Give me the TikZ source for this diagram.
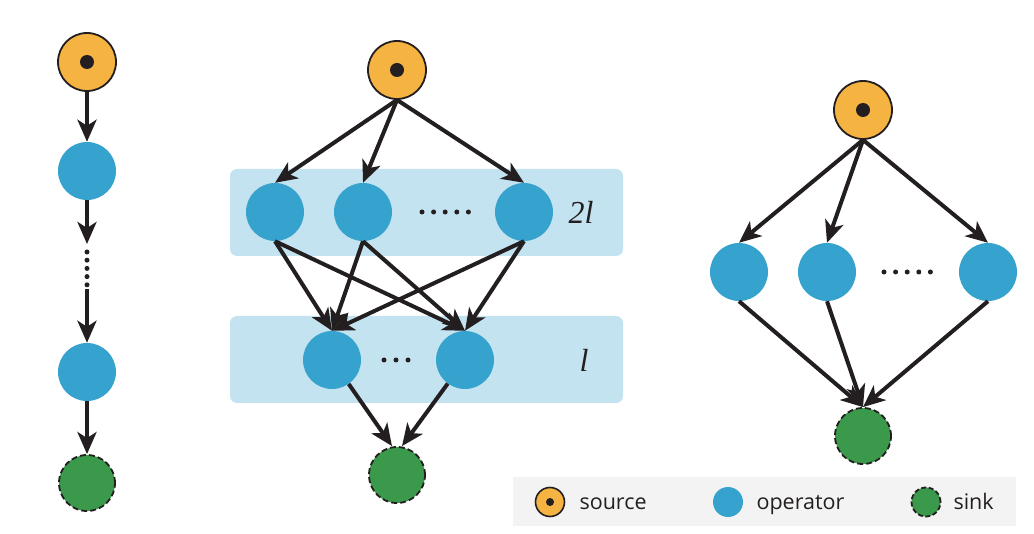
\documentclass[tikz,border=0pt]{standalone}
\usepackage{fontspec}
\setsansfont{Open Sans}
\newfontfamily\lblfont{Liberation Serif}
\usetikzlibrary{arrows.meta}
\definecolor{srcor}{HTML}{F5B342}
\definecolor{opblue}{HTML}{36A3CF}
\definecolor{sinkgr}{HTML}{3A994B}
\definecolor{layerbg}{HTML}{C4E3F0}
\definecolor{legbg}{HTML}{F3F3F3}
\definecolor{ink}{HTML}{231F20}
\tikzset{
  srcnode/.style={circle,minimum size=58pt,inner sep=0pt,fill=srcor,draw=ink,line width=1.8pt},
  opnode/.style={circle,minimum size=58pt,inner sep=0pt,fill=opblue},
  sinknode/.style={circle,minimum size=56pt,inner sep=0pt,fill=sinkgr,draw=ink,line width=1.8pt,dash pattern=on 6pt off 3pt},
  dotmark/.style={circle,fill=ink,minimum size=14pt,inner sep=0pt},
  conn/.style={draw=ink,line width=4pt,-{Stealth[length=22pt,width=19pt,inset=6pt]}},
  layer/.style={fill=layerbg,rounded corners=7pt},
  lbl/.style={font=\lblfont\fontsize{32pt}{32pt}\selectfont\itshape,text=ink},
  legtxt/.style={font=\sffamily\fontsize{21.5pt}{24pt}\selectfont,text=ink,anchor=base west}
}
\begin{document}
\begin{tikzpicture}[x=1pt,y=-1pt]
\useasboundingbox (0,0) rectangle (1034,534);
% ---------- left chain ----------
\node[srcnode] (Ls) at (87,62) {};
\node[dotmark] at (Ls) {};
\node[opnode] (Lo1) at (87,171) {};
\node[opnode] (Lo2) at (87,372) {};
\node[sinknode] (Lk) at (87,483) {};
\coordinate (Ld1) at (87,244);
\coordinate (Ld2) at (87,289);
\draw[conn] (Lo1) -- (Ld1);
\draw[conn] (Ls) -- (Lo1);
\draw[ink,line width=5pt,line cap=round,dash pattern=on 0pt off 8.2pt] (87,252) -- (87,285);
\draw[conn] (Ld2) -- (Lo2);
\draw[conn] (Lo2) -- (Lk);
% ---------- middle ----------
\fill[layer] (230,169) rectangle (623,256);
\fill[layer] (230,316) rectangle (623,403);
\node[srcnode] (Ms) at (397,70) {};
\node[dotmark] at (Ms) {};
\node[opnode] (Ma1) at (275,212) {};
\node[opnode] (Ma2) at (363,212) {};
\node[opnode] (Ma3) at (524,212) {};
\node[opnode] (Mb1) at (332,360) {};
\node[opnode] (Mb2) at (465,360) {};
\node[sinknode] (Mk) at (397,475) {};
\coordinate (MkL) at ([xshift=-5pt]Mk.north);
\coordinate (MkR) at ([xshift=5pt]Mk.north);
\draw[ink,line width=5pt,line cap=round,dash pattern=on 0pt off 11.6pt] (422,212) -- (468.5,212);
\draw[ink,line width=5pt,line cap=round,dash pattern=on 0pt off 12pt] (384,360) -- (408,360);
\node[lbl] (M2l) at (581,212) {2l};
\node[lbl] (Ml) at (584,360) {l};
\foreach \t in {Ma1,Ma2,Ma3} \draw[conn] (Ms.south) -- (\t.north);
\foreach \s in {Ma1,Ma2,Ma3} {
  \draw[conn] (\s.south) -- (Mb1.north);
  \draw[conn] (\s.south) -- (Mb2.north);
}
\draw[conn] (Mb1) -- (MkL);
\draw[conn] (Mb2) -- (MkR);
% ---------- right ----------
\node[srcnode] (Rs) at (863,110) {};
\node[dotmark] at (Rs) {};
\node[opnode] (Ro1) at (739,272) {};
\node[opnode] (Ro2) at (827,272) {};
\node[opnode] (Ro3) at (988,272) {};
\node[sinknode] (Rk) at (863,436) {};
\draw[ink,line width=5pt,line cap=round,dash pattern=on 0pt off 11.6pt] (884,272) -- (930.5,272);
\foreach \t in {Ro1,Ro2,Ro3} {
  \draw[conn] (Rs.south) -- (\t.north);
  \draw[conn] (\t.south) -- (Rk.north);
}
% ---------- legend ----------
\fill[legbg] (513,477) rectangle (1016,526);
\node[srcnode,minimum size=29pt,line width=1.6pt] (Gs) at (550,502) {};
\node[dotmark,minimum size=8pt] at (Gs) {};
\node[legtxt] (Gst) at (576,509) {source};
\node[opnode,minimum size=30pt] (Go) at (728,502) {};
\node[legtxt] (Got) at (753,509) {operator};
\node[sinknode,minimum size=29pt,dash pattern=on 5pt off 2.5pt] (Gk) at (926,502) {};
\node[legtxt] (Gkt) at (950,509) {sink};
\end{tikzpicture}
\end{document}
